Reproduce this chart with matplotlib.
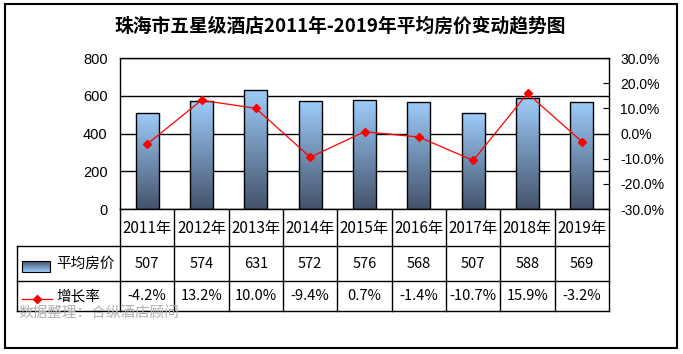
"""
珠海市五星级酒店 2011-2019 平均房价与增长率（柱状图 + 折线 + 数据表）。
"""
import numpy as np
import matplotlib
matplotlib.use("Agg")
import matplotlib.pyplot as plt
from matplotlib.colors import LinearSegmentedColormap
from matplotlib.patches import Rectangle

plt.rcParams["font.family"] = ["Noto Sans CJK SC", "DejaVu Sans"]

years = ["2011年", "2012年", "2013年", "2014年", "2015年", "2016年", "2017年", "2018年", "2019年"]
price = [507, 574, 631, 572, 576, 568, 507, 588, 569]
growth = [-4.2, 13.2, 10.0, -9.4, 0.7, -1.4, -10.7, 15.9, -3.2]

W, H = 683, 354
# 绘图区像素位置
PX_L, PX_R, PX_T, PX_B = 120, 609, 58, 209
ROW1, ROW2, ROW3 = 246, 281, 311
TBL_L = 17

grad = LinearSegmentedColormap.from_list("bar", ["#44526b", "#9DCCFA"])
gimg = np.linspace(0, 1, 256).reshape(-1, 1)

fig = plt.figure(figsize=(W / 100, H / 100), dpi=100)

ax = fig.add_axes([PX_L / W, 1 - PX_B / H, (PX_R - PX_L) / W, (PX_B - PX_T) / H])
x = np.arange(len(years))
bars = ax.bar(x, price, width=0.42, facecolor="none", edgecolor="black", linewidth=1, zorder=3)
for b in bars:
    im = ax.imshow(gimg, cmap=grad, aspect="auto", origin="lower",
                   extent=(b.get_x(), b.get_x() + b.get_width(), 0, b.get_height()), zorder=2)
    im.set_clip_path(b)
ax.set_xlim(-0.5, len(years) - 0.5)
ax.set_ylim(0, 800)
ax.set_yticks([0, 200, 400, 600, 800])
ax.set_xticks([])
ax.tick_params(axis="y", length=0, pad=9, labelsize=10.5)
for lab in ax.get_yticklabels():
    lab.set_fontfamily(["Liberation Sans"])
ax.grid(axis="y", color="black", linewidth=1)
ax.set_axisbelow(True)
for s in ax.spines.values():
    s.set_color("black")
    s.set_linewidth(1)

ax2 = ax.twinx()
ax2.plot(x, np.array(growth) / 100, color="red", linewidth=0.9, marker="D", markersize=4, zorder=5)
ax2.set_ylim(-0.3, 0.3)
ax2.set_yticks(np.arange(-0.3, 0.31, 0.1))
ax2.set_yticklabels([f"{v * 100:.1f}%" for v in np.arange(-0.3, 0.31, 0.1)])
ax2.tick_params(axis="y", direction="in", length=4, pad=8, labelsize=10, color="black")
for lab in ax2.get_yticklabels():
    lab.set_fontfamily(["Liberation Sans"])
for s in ax2.spines.values():
    s.set_visible(False)

# 数据表与外框，像素坐标
ov = fig.add_axes([0, 0, 1, 1], zorder=-1)
ov.add_patch(Rectangle((5, 4), 672, 344, fill=False, edgecolor="black", linewidth=1.5))

cw = (PX_R - PX_L) / len(years)
lk = dict(color="black", linewidth=1)
for i in range(len(years) + 1):
    xe = PX_L + i * cw
    ov.plot([xe, xe], [PX_B, ROW3], **lk)
ov.plot([TBL_L, TBL_L], [ROW1, ROW3], **lk)
for yy in (ROW1, ROW2, ROW3):
    ov.plot([TBL_L, PX_R], [yy, yy], **lk)

for i, yr in enumerate(years):
    cx = PX_L + (i + 0.5) * cw
    ov.text(cx, (PX_B + ROW1) / 2 + 1, yr, ha="center", va="center", fontsize=11)
    ov.text(cx, (ROW1 + ROW2) / 2, f"{price[i]}", ha="center", va="center", fontsize=10.5)
    ov.text(cx, (ROW2 + ROW3) / 2, f"{growth[i]:.1f}%", ha="center", va="center", fontsize=10.5)

# 图例
ov.imshow(gimg, cmap=grad, aspect="auto", origin="upper", extent=(22, 50, 272, 261), zorder=2)
ov.add_patch(Rectangle((22, 261), 28, 11, fill=False, edgecolor="black", linewidth=0.8, zorder=3))
ov.text(56, (ROW1 + ROW2) / 2, "平均房价", ha="left", va="center", fontsize=10.5)
ov.plot([22, 52], [299, 299], color="red", linewidth=0.9)
ov.plot([37], [299], marker="D", color="red", markersize=4)
ov.text(56, (ROW2 + ROW3) / 2, "增长率", ha="left", va="center", fontsize=10.5)

ov.text(18, 313, "数据整理：合纵酒店顾问", ha="left", va="center", fontsize=10.5, color="#b0b0b0")

ov.set_xlim(0, W)
ov.set_ylim(H, 0)
ov.axis("off")

fig.text(340 / W, 1 - 26 / H, "珠海市五星级酒店2011年-2019年平均房价变动趋势图",
         ha="center", va="center", fontsize=13.5, fontweight="bold")

fig.savefig("out.png", dpi=100)
